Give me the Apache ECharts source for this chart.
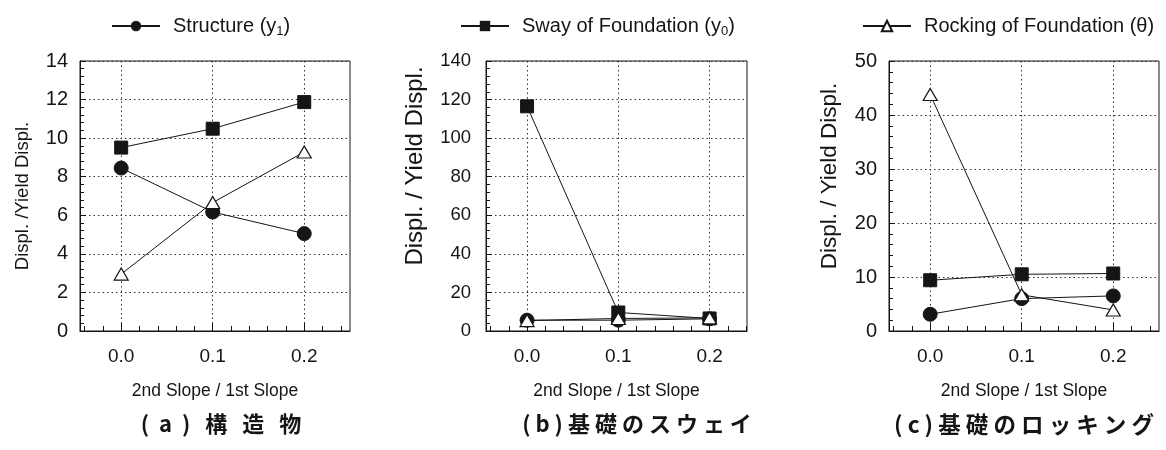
<!DOCTYPE html>
<html>
<head>
<meta charset="utf-8">
<script src="https://cdn.jsdelivr.net/npm/echarts@6/dist/echarts.min.js"></script>
<style>
  html, body { margin: 0; padding: 0; background: #fff; }
  #chart { width: 1166px; height: 450px; }
</style>
</head>
<body>
<div id="chart"></div>
<script>
// Stiffness ratio of the bilinear model (x axis)
const slopeRatios = [0.0, 0.1, 0.2];
const xTickLabels = ['0.0', '0.1', '0.2'];

// (a) nonlinear structure
const structA = [8.45, 6.17, 5.05];
const swayA = [9.51, 10.49, 11.87];
const rockA = [2.95, 6.66, 9.28];

// (b) nonlinear foundation sway
const structB = [5.6, 5.6, 6.3];
const swayB = [116.5, 9.6, 6.5];
const rockB = [5.4, 6.5, 6.8];

// (c) nonlinear foundation rocking
const structC = [3.1, 6.0, 6.5];
const swayC = [9.4, 10.5, 10.65];
const rockC = [43.8, 6.7, 3.9];

const yMax = [14, 140, 50];
const yStep = [2, 20, 10];
const yTitles = ['Displ. /Yield Displ.', 'Displ. / Yield Displ.', 'Displ. / Yield Displ.'];
const xTitle = '2nd Slope / 1st Slope';
const captions = ['(  a  )   構   造   物', '( b ) 基 礎 の ス ウ ェ イ', '( c ) 基 礎 の ロ ッ キ ン グ'];

const NAME_STRUCT = 'Structure (y1)';
const NAME_SWAY = 'Sway of Foundation (y0)';
const NAME_ROCK = 'Rocking of Foundation (θ)';

const INK = '#151515';
const SANS = "'Liberation Sans', Arial, sans-serif";

const panels = [
  { left: 80, width: 270, xMin: -0.045, xMax: 0.25, labelGap: 12, labelSize: 20,
    nameGap: 48, nameSize: 18.5, nameShift: 0, capCenter: 216, capSize: 22,
    struct: structA, sway: swayA, rock: rockA },
  { left: 486, width: 261, xMin: -0.045, xMax: 0.241, labelGap: 15, labelSize: 18.5,
    nameGap: 59, nameSize: 24, nameShift: 60, capCenter: 632, capSize: 22,
    struct: structB, sway: swayB, rock: rockB },
  { left: 889, width: 270, xMin: -0.045, xMax: 0.25, labelGap: 12, labelSize: 20,
    nameGap: 48, nameSize: 22.5, nameShift: 40, capCenter: 1019, capSize: 22.5,
    struct: structC, sway: swayC, rock: rockC }
];

// minor x ticks every 0.02 inside the box
const minorXTicks = [];
for (let k = -2; k <= 12; k++) minorXTicks.push(+(k * 0.02).toFixed(2));

const grids = [], xAxes = [], yAxes = [], series = [], titles = [];

panels.forEach((p, i) => {
  grids.push({
    left: p.left, top: 61, width: p.width, height: 270,
    show: true, borderColor: INK, borderWidth: 1, backgroundColor: 'transparent'
  });
  // data axis: labels, long ticks and dotted grid at 0.0 / 0.1 / 0.2
  xAxes.push({
    type: 'value', gridIndex: i, min: p.xMin, max: p.xMax, position: 'bottom',
    axisLine: { onZero: false, lineStyle: { color: INK, width: 1 } },
    axisTick: { inside: true, length: 8, customValues: slopeRatios, lineStyle: { color: INK } },
    axisLabel: {
      customValues: slopeRatios, margin: 16, color: INK, fontSize: 19, fontFamily: SANS,
      formatter: v => xTickLabels[slopeRatios.findIndex(s => Math.abs(s - v) < 1e-9)] || ''
    },
    splitLine: { show: true, lineStyle: { color: '#333', type: [1.5, 3], width: 1 } },
    name: xTitle, nameLocation: 'middle', nameGap: 51,
    nameTextStyle: { color: INK, fontSize: 17.5, fontFamily: SANS }
  });
  // helper axis carrying the short minor ticks
  xAxes.push({
    type: 'value', gridIndex: i, min: p.xMin, max: p.xMax, position: 'bottom',
    axisLine: { show: false, onZero: false },
    axisTick: { inside: true, length: 5, customValues: minorXTicks, lineStyle: { color: INK } },
    axisLabel: { show: false },
    splitLine: { show: false }
  });
  yAxes.push({
    type: 'value', gridIndex: i, min: 0, max: yMax[i], interval: yStep[i], position: 'left',
    axisLine: { show: true, onZero: false, lineStyle: { color: INK, width: 1 } },
    axisTick: { show: true, inside: true, length: 6, lineStyle: { color: INK } },
    minorTick: { show: true, splitNumber: 5, length: 4, lineStyle: { color: INK } },
    axisLabel: { color: INK, fontSize: p.labelSize, fontFamily: SANS, margin: p.labelGap },
    splitLine: { show: true, lineStyle: { color: '#333', type: [1.5, 3], width: 1 } },
    name: yTitles[i], nameLocation: 'middle', nameGap: p.nameGap,
    nameTextStyle: { color: INK, fontSize: p.nameSize, fontFamily: SANS,
      padding: [0, 0, 0, p.nameShift] }
  });
  const xi = i * 2;
  const common = { xAxisIndex: xi, yAxisIndex: i, lineStyle: { color: INK, width: 1 }, z: 3 };
  series.push(Object.assign({}, common, {
    type: 'line', name: NAME_SWAY, symbol: 'rect', symbolSize: 13,
    itemStyle: { color: INK, borderColor: INK },
    data: slopeRatios.map((x, j) => [x, p.sway[j]])
  }));
  series.push(Object.assign({}, common, {
    type: 'line', name: NAME_STRUCT, symbol: 'circle', symbolSize: 14,
    itemStyle: { color: INK, borderColor: INK },
    data: slopeRatios.map((x, j) => [x, p.struct[j]])
  }));
  series.push(Object.assign({}, common, {
    type: 'line', name: NAME_ROCK, symbol: 'triangle', symbolSize: [14, 12],
    itemStyle: { color: '#fff', borderColor: INK, borderWidth: 1.2 },
    data: slopeRatios.map((x, j) => [x, p.rock[j]])
  }));
  titles.push({
    text: captions[i], left: p.capCenter, top: 408, textAlign: 'center',
    textStyle: { fontSize: p.capSize, fontWeight: 'bold', color: INK, fontFamily: "'Noto Sans CJK JP', sans-serif" }
  });
});

const legendRich = {
  n: { fontSize: 20, fontFamily: SANS, color: INK },
  s: { fontSize: 13, fontFamily: SANS, color: INK, padding: [11, 0, 0, 0] }
};
const legendText = {
  [NAME_STRUCT]: '{n|Structure (y}{s|1}{n|)}',
  [NAME_SWAY]: '{n|Sway of Foundation (y}{s|0}{n|)}',
  [NAME_ROCK]: '{n|Rocking of Foundation (θ)}'
};
function makeLegend(name, left) {
  return {
    data: [name], left: left, top: 11, itemWidth: 48, itemHeight: 13,
    formatter: n => legendText[n],
    textStyle: { color: INK, padding: [0, 0, 0, 8], rich: legendRich },
    selectedMode: false
  };
}

const chart = echarts.init(document.getElementById('chart'), null, { renderer: 'canvas' });
chart.setOption({
  animation: false,
  backgroundColor: '#fff',
  title: titles,
  legend: [makeLegend(NAME_STRUCT, 106), makeLegend(NAME_SWAY, 455), makeLegend(NAME_ROCK, 857)],
  grid: grids,
  xAxis: xAxes,
  yAxis: yAxes,
  series: series
});
</script>
</body>
</html>
